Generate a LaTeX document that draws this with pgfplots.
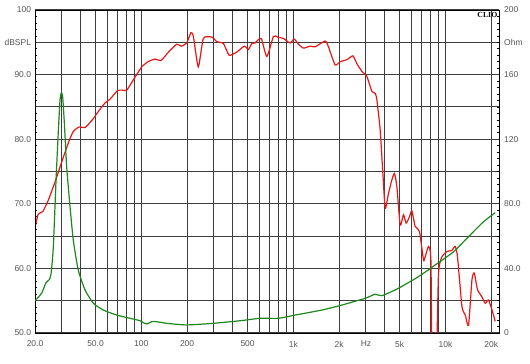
\documentclass[border=0pt]{standalone}
\usepackage{pgfplots}
\pgfplotsset{compat=1.18}
\usepackage{fontspec}
\setmainfont{Liberation Sans}
\newfontfamily\cliofont{Liberation Serif}
\definecolor{gridc}{RGB}{62,62,62}
\definecolor{txt}{RGB}{85,85,85}
\definecolor{spl}{RGB}{232,22,22}
\definecolor{imp}{RGB}{28,135,28}

\pgfplotstableread{
f db
20 66.3
21.0 68.4
22.5 68.8
24.5 70.6
27.1 73.4
30.0 76.5
33.1 79.4
35.7 81.2
39.1 81.9
42.7 81.8
48.4 83.2
52.2 84.3
57.7 85.6
62.3 86.2
69.6 87.5
74.4 87.6
80.2 87.6
88.7 89.2
100.7 91.2
111 92.0
123 92.4
135 92.2
151 93.5
171 94.7
183 94.4
199 94.9
212 96.5
220 95.9
237 91.2
256 95.6
291 95.8
314 95.1
347 94.8
378 93.0
425 93.5
476 94.4
506 93.9
533 94.8
560 94.9
614 95.6
669 92.8
739 95.9
790 95.8
860 95.6
883 95.4
952 94.9
1012 95.5
1080 94.7
1165 94.1
1289 94.4
1391 94.3
1618 95.2
1701 94.3
1882 91.5
2030 92.0
2248 92.3
2462 92.9
2614 91.7
2821 90.5
3043 89.7
3282 87.4
3450 87.1
3540 86.1
3722 81.4
3878 74.7
4016 69.3
4222 71.6
4444 73.7
4623 74.7
4794 72.6
5040 66.7
5297 68.3
5518 67.0
5800 68.0
6016 68.9
6325 66.5
6751 65.7
7171 61.3
7360 61.8
7736 63.4
8022 61.3
8180 45
8695 45
9003 59.2
9479 61.8
10224 62.6
11026 62.8
11592 63.4
12001 61.8
12836 54.1
13493 52.8
14186 51.2
14930 58.2
15462 59.3
16254 56.7
17372 55.6
18258 54.6
19196 55.1
20213 53.6
21248 51.8
}\spltab

\pgfplotstableread{
f ohm
20 20.0
22.1 24.6
23.6 31.1
24.8 33.0
25.5 36.7
26.4 53.4
27.5 94.7
28.5 125.7
29.2 144.2
29.8 148.7
30.4 146.3
31.2 129.8
32.3 102.9
34.0 78.2
35.7 57.6
38.5 39.0
42.7 26.6
48.4 18.4
56.3 14.2
69.0 11.1
84.3 9.1
98.2 7.6
103 6.4
109 5.6
117 7.0
126 7.0
147 6.0
199 5.0
298 6.0
447 7.6
604 9.1
798 9.1
1027 11.1
1538 14.2
2084 17.3
2966 21.5
3450 24.0
3818 23.1
4911 27.7
6650 34.9
8564 42.1
11300 50.3
14550 60.7
17798 68.9
21248 74.5
}\imptab

\begin{document}
\begin{tikzpicture}
\path[use as bounding box] (0,0) rectangle (530bp,364bp);
\begin{axis}[
  at={(35bp,31bp)}, anchor=south west,
  scale only axis, width=464bp, height=323bp,
  xmode=log, xmin=20, xmax=22500,
  ymin=50, ymax=100,
  clip mode=individual,
  /pgf/number format/assume math mode=true,
  tick label style={font=\fontsize{8.5}{10}\selectfont, text=txt},
  tick align=inside,
  major tick length=0pt, minor tick length=2.4bp,
  minor y tick num=4,
  minor x tick num=0,
  axis line style={black, line width=0.9bp},
  minor tick style={black, line width=0.6bp},
  xtick={20,30,40,50,60,70,80,90,100,200,300,400,500,600,700,800,900,1000,2000,3000,4000,5000,6000,7000,8000,9000,10000,20000},
  xticklabels={20.0,,,50.0,,,,,100,200,,,500,,,,,1k,2k,Hz,,5k,,,,,10k,20k},
  ytick={50,55,60,65,70,75,80,85,90,95,100},
  yticklabels={50.0,,60.0,,70.0,,80.0,,90.0,dBSPL,100},
  xtick pos=bottom, ytick pos=left,
  grid=major,
  major grid style={gridc, line width=1bp},
  yticklabel style={xshift=-0.5bp},
  xticklabel style={yshift=-4.5bp},
]
\addplot[spl, line width=1.2bp, smooth, tension=0.35] table[x=f, y=db] {\spltab};
\node[anchor=north east, inner sep=0pt, xshift=-1.5bp, yshift=-2bp, font=\cliofont\bfseries\fontsize{7.8}{8}\selectfont] at (rel axis cs:1,1) {CLIO};
\end{axis}
\begin{axis}[
  at={(35bp,31bp)}, anchor=south west,
  scale only axis, width=464bp, height=323bp,
  xmode=log, xmin=20, xmax=22500,
  ymin=0, ymax=200,
  clip mode=individual,
  hide x axis,
  tick align=inside,
  major tick length=0pt, minor tick length=2.4bp,
  axis line style={black, line width=0.9bp},
  minor tick style={black, line width=0.6bp},
  ytick pos=right,
  ytick={0,40,80,120,160,200},
  minor y tick num=9,
  yticklabels={},
]
\addplot[imp, line width=1.2bp, smooth, tension=0.35] table[x=f, y=ohm] {\imptab};
\begin{scope}[every node/.style={anchor=west, inner sep=0pt, xshift=5bp, text=txt, font=\fontsize{8.5}{10}\selectfont}]
\node at (rel axis cs:1,1) {200};
\node at (rel axis cs:1,0.9) {Ohm};
\node at (rel axis cs:1,0.8) {160};
\node at (rel axis cs:1,0.6) {120};
\node at (rel axis cs:1,0.4) {80.0};
\node at (rel axis cs:1,0.2) {40.0};
\node at (rel axis cs:1,0) {0};
\end{scope}
\end{axis}
\end{tikzpicture}
\end{document}
